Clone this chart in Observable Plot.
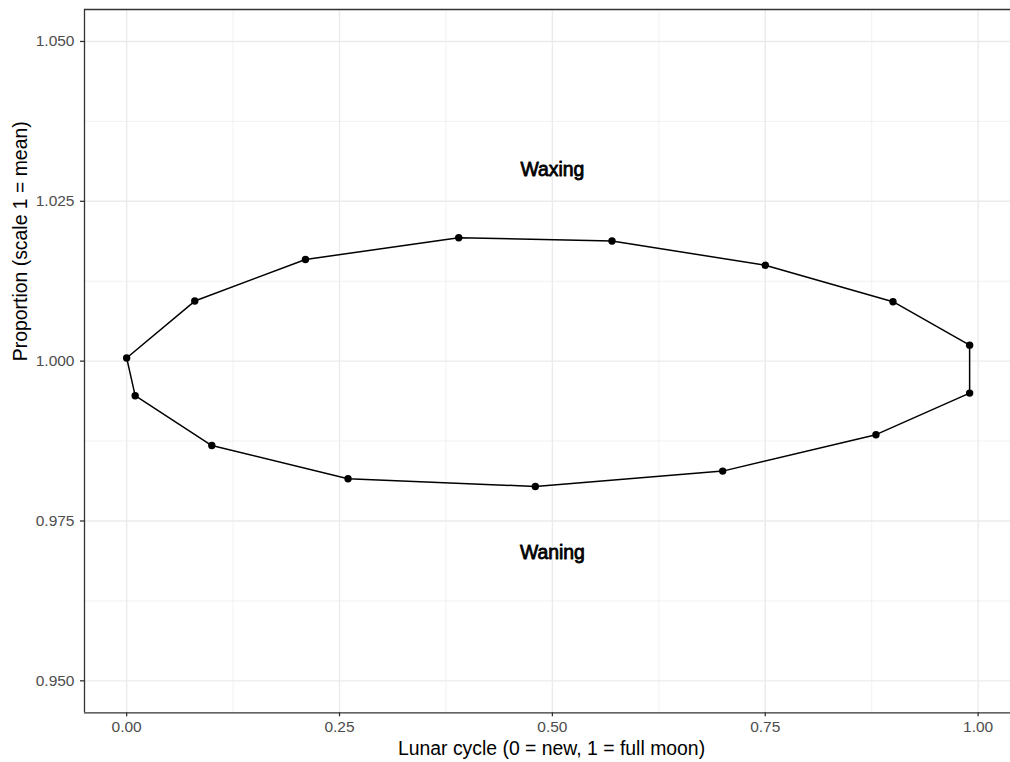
<!DOCTYPE html>
<html>
<head>
<meta charset="utf-8">
<script src="https://cdn.jsdelivr.net/npm/d3@7"></script>
<script src="https://cdn.jsdelivr.net/npm/@observablehq/plot@0.6"></script>
<style>
  html, body { margin: 0; padding: 0; background: #ffffff; }
  #chart svg { display: block; font-family: "Liberation Sans", Arial, Helvetica, sans-serif; }
</style>
</head>
<body>
<div id="chart"></div>
<script>
// Waxing half of the cycle (upper arc), from new moon to full moon
const waxX = [0.00, 0.08, 0.21, 0.39, 0.57, 0.75, 0.90, 0.99];
const waxY = [1.0005, 1.0094, 1.0159, 1.0193, 1.0188, 1.0150, 1.0093, 1.0025];
// Waning half of the cycle (lower arc), from full moon back to new moon
const wanX = [0.99, 0.88, 0.70, 0.48, 0.26, 0.10, 0.01];
const wanY = [0.9950, 0.9885, 0.9828, 0.9804, 0.9816, 0.9868, 0.9946];

// Phase annotations
const phaseLabels = ["Waxing", "Waning"];
const phaseX = [0.5, 0.5];
const phaseY = [1.03, 0.97];

// Axis ticks
const xTicks = [0, 0.25, 0.5, 0.75, 1];
const xMinor = [0.125, 0.375, 0.625, 0.875];
const yTicks = [0.95, 0.975, 1.0, 1.025, 1.05];
const yMinor = [0.9625, 0.9875, 1.0125, 1.0375];

const xTitle = "Lunar cycle (0 = new, 1 = full moon)";
const yTitle = "Proportion (scale 1 = mean)";

// Visible panel limits; the panel's right edge runs off the canvas
const xLimits = [-0.0495, 1.038];
const yLimits = [0.945, 1.055];

// Ordered points of the closed loop
const points = [
  ...waxX.map((x, i) => ({x, y: waxY[i]})),
  ...wanX.map((x, i) => ({x, y: wanY[i]}))
];
const loop = [...points, points[0]];
const labels = phaseLabels.map((text, i) => ({text, x: phaseX[i], y: phaseY[i]}));

const grid = "#ebebeb";
const border = "#333333";
const tickFont = 15.5;
const titleFont = 19.4;

const chart = Plot.plot({
  width: 1010,
  height: 762,
  marginLeft: 84,
  marginRight: 0,
  marginTop: 9,
  marginBottom: 49.7,
  x: {domain: xLimits},
  y: {domain: yLimits},
  marks: [
    // panel grid
    Plot.ruleX(xMinor, {stroke: grid, strokeWidth: 0.7}),
    Plot.ruleY(yMinor, {stroke: grid, strokeWidth: 0.7}),
    Plot.ruleX(xTicks, {stroke: grid, strokeWidth: 1.4}),
    Plot.ruleY(yTicks, {stroke: grid, strokeWidth: 1.4}),
    // the loop
    Plot.line(loop, {x: "x", y: "y", stroke: "black", strokeWidth: 1.5, curve: "linear"}),
    Plot.dot(points, {x: "x", y: "y", r: 3.7, fill: "black", stroke: "none"}),
    // phase labels
    Plot.text(labels, {x: "x", y: "y", text: "text", fontSize: 19.4, fill: "black",
                       stroke: "black", strokeWidth: 0.8, lineAnchor: "middle"}),
    // axes
    Plot.axisX(xTicks, {tickFormat: d3.format(".2f"), tickSize: 4, tickPadding: 4,
                        fontSize: tickFont, fill: "#4d4d4d", stroke: border, strokeWidth: 1.3, label: null}),
    Plot.axisY(yTicks, {tickFormat: d3.format(".3f"), tickSize: 4, tickPadding: 6,
                        fontSize: tickFont, fill: "#4d4d4d", stroke: border, strokeWidth: 1.3, label: null}),
    // axis titles
    Plot.text([xTitle], {frameAnchor: "bottom", dy: 36, dx: 4, fontSize: titleFont, fill: "black", lineAnchor: "middle"}),
    Plot.text([yTitle], {frameAnchor: "left", dx: -64, rotate: -90, fontSize: titleFont, fill: "black", lineAnchor: "middle"}),
    // panel border: left, top and bottom edges
    Plot.ruleX([xLimits[0]], {stroke: border, strokeWidth: 1.3}),
    Plot.ruleY([yLimits[0], yLimits[1]], {stroke: border, strokeWidth: 1.3})
  ]
});

document.getElementById("chart").appendChild(chart);
</script>
</body>
</html>
